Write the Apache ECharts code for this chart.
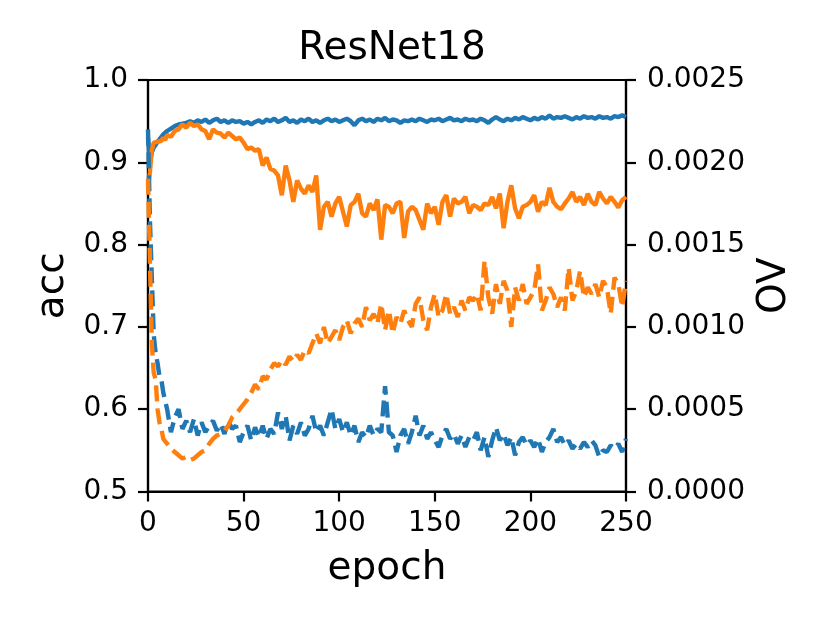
<!DOCTYPE html>
<html>
<head>
<meta charset="utf-8">
<script src="https://cdn.jsdelivr.net/npm/echarts/dist/echarts.min.js"></script>
<style>
  html, body { margin: 0; padding: 0; background: #fff; }
  #chart { width: 830px; height: 623px; }
</style>
</head>
<body>
<div id="chart"></div>
<script>
// epochs sampled: every epoch up to 10, then every 2
var epochs = [0,1,2,3,4,5,6,7,8,9,10];
for (var e = 12; e <= 250; e += 2) epochs.push(e);

var accBlue = [
  0.930,0.900,0.912,0.918,0.921,0.925,0.928,0.931,0.934,0.936,0.938,
  0.941,0.944,0.946,0.947,0.948,0.950,0.948,0.951,0.949,0.952,
  0.948,0.951,0.953,0.949,0.951,0.948,0.951,0.949,0.950,0.947,
  0.949,0.946,0.949,0.951,0.948,0.952,0.950,0.953,0.949,0.951,
  0.954,0.949,0.951,0.948,0.952,0.950,0.953,0.949,0.951,0.948,
  0.951,0.953,0.950,0.952,0.949,0.951,0.953,0.950,0.945,0.951,
  0.953,0.950,0.952,0.949,0.953,0.951,0.954,0.950,0.952,0.951,
  0.948,0.951,0.950,0.952,0.950,0.953,0.951,0.949,0.952,0.951,
  0.953,0.950,0.952,0.954,0.951,0.952,0.950,0.953,0.951,0.952,
  0.950,0.953,0.951,0.948,0.952,0.955,0.952,0.950,0.953,0.951,
  0.954,0.952,0.955,0.953,0.951,0.954,0.952,0.955,0.953,0.957,
  0.953,0.955,0.954,0.956,0.954,0.952,0.955,0.953,0.956,0.954,
  0.955,0.953,0.956,0.954,0.955,0.953,0.956,0.955,0.957,0.955
];

var accOrange = [
  0.870,0.888,0.915,0.924,0.922,0.925,0.923,0.926,0.930,0.927,0.933,
  0.931,0.938,0.940,0.946,0.942,0.948,0.944,0.946,0.940,0.938,
  0.928,0.940,0.936,0.935,0.930,0.936,0.932,0.928,0.930,0.924,
  0.916,0.918,0.914,0.916,0.896,0.906,0.892,0.890,0.884,0.860,
  0.896,0.878,0.852,0.878,0.868,0.862,0.872,0.864,0.884,0.818,
  0.846,0.852,0.834,0.850,0.858,0.840,0.822,0.848,0.852,0.862,
  0.838,0.834,0.850,0.842,0.855,0.806,0.848,0.846,0.838,0.850,
  0.852,0.808,0.840,0.846,0.842,0.830,0.818,0.850,0.838,0.846,
  0.824,0.852,0.860,0.834,0.856,0.850,0.852,0.858,0.838,0.848,
  0.846,0.842,0.850,0.848,0.858,0.844,0.862,0.820,0.852,0.872,
  0.844,0.832,0.846,0.848,0.852,0.860,0.840,0.852,0.848,0.869,
  0.852,0.846,0.843,0.850,0.856,0.864,0.852,0.858,0.848,0.862,
  0.852,0.848,0.864,0.856,0.850,0.858,0.852,0.845,0.854,0.858
];

var ovBlue = [
  0.00220,0.00165,0.00130,0.00095,0.00084,0.00078,0.00070,0.00068,0.00060,0.00055,0.00050,
  0.00036,0.00045,0.00050,0.00038,0.00043,0.00036,0.00044,0.00034,0.00042,0.00036,
  0.00040,0.00043,0.00037,0.00041,0.00035,0.00043,0.00038,0.00040,0.00030,0.00036,
  0.00040,0.00031,0.00039,0.00033,0.00040,0.00032,0.00038,0.00035,0.00048,0.00038,
  0.00046,0.00031,0.00040,0.00035,0.00042,0.00034,0.00038,0.00046,0.00036,0.00040,
  0.00034,0.00042,0.00050,0.00038,0.00044,0.00036,0.00042,0.00034,0.00040,0.00030,
  0.00036,0.00033,0.00040,0.00034,0.00038,0.00036,0.00064,0.00036,0.00034,0.00024,
  0.00034,0.00038,0.00029,0.00036,0.00046,0.00034,0.00040,0.00032,0.00036,0.00031,
  0.00027,0.00034,0.00038,0.00032,0.00035,0.00029,0.00034,0.00027,0.00033,0.00031,
  0.00036,0.00025,0.00033,0.00021,0.00031,0.00039,0.00031,0.00035,0.00028,0.00033,
  0.00022,0.00030,0.00033,0.00028,0.00031,0.00027,0.00032,0.00024,0.00030,0.00033,
  0.00038,0.00030,0.00033,0.00028,0.00031,0.00026,0.00029,0.00026,0.00030,0.00027,
  0.00031,0.00028,0.00021,0.00025,0.00024,0.00028,0.00026,0.00029,0.00024,0.00032
];

var ovOrange = [
  0.00190,0.00140,0.00090,0.00072,0.00068,0.00050,0.00042,0.00038,0.00032,0.00031,0.00029,
  0.00026,0.00024,0.00022,0.00020,0.00021,0.00019,0.00020,0.00022,0.00024,0.00025,
  0.00029,0.00032,0.00034,0.00035,0.00037,0.00040,0.00045,0.00047,0.00050,0.00053,
  0.00056,0.00060,0.00065,0.00062,0.00070,0.00068,0.00074,0.00078,0.00076,0.00080,
  0.00077,0.00082,0.00079,0.00083,0.00080,0.00086,0.00084,0.00090,0.00096,0.00090,
  0.00100,0.00090,0.00094,0.00098,0.00092,0.00100,0.00104,0.00096,0.00102,0.00105,
  0.00100,0.00112,0.00104,0.00108,0.00102,0.00114,0.00098,0.00110,0.00096,0.00106,
  0.00102,0.00110,0.00104,0.00100,0.00114,0.00118,0.00104,0.00098,0.00112,0.00120,
  0.00106,0.00110,0.00120,0.00108,0.00112,0.00106,0.00116,0.00110,0.00118,0.00116,
  0.00120,0.00110,0.00140,0.00118,0.00108,0.00126,0.00114,0.00128,0.00122,0.00100,
  0.00124,0.00116,0.00126,0.00114,0.00118,0.00122,0.00138,0.00110,0.00116,0.00124,
  0.00120,0.00112,0.00118,0.00110,0.00136,0.00116,0.00122,0.00134,0.00118,0.00124,
  0.00120,0.00126,0.00118,0.00128,0.00124,0.00108,0.00130,0.00126,0.00112,0.00128
];

function pairs(vals) {
  return epochs.map(function (x, i) { return [x, vals[i]]; });
}

var font = 'DejaVu Sans';
var tickText = { color: '#000', fontFamily: font, fontSize: 28 };
var axisLine = { show: true, lineStyle: { color: '#000', width: 2.2 } };
var axisTick = { show: true, inside: false, length: 10, lineStyle: { color: '#000', width: 2.2 } };

var option = {
  animation: false,
  backgroundColor: '#fff',
  title: {
    text: 'ResNet18',
    left: 387,
    top: 24,
    textAlign: 'center',
    textStyle: { color: '#000', fontFamily: font, fontSize: 39, fontWeight: 'normal' }
  },
  grid: {
    left: 148, right: 204, top: 80, bottom: 131.5,
    show: true, borderColor: '#000', borderWidth: 2.2, backgroundColor: 'transparent'
  },
  xAxis: {
    type: 'value', min: 0, max: 250, interval: 50,
    name: 'epoch', nameLocation: 'middle', nameGap: 58,
    nameTextStyle: { color: '#000', fontFamily: font, fontSize: 39 },
    axisLine: axisLine, axisTick: axisTick,
    axisLabel: Object.assign({ margin: 18 }, tickText),
    splitLine: { show: false }
  },
  yAxis: [
    {
      type: 'value', min: 0.5, max: 1.0, interval: 0.1, position: 'left',
      name: 'acc', nameLocation: 'middle', nameRotate: 90, nameGap: 76,
      nameTextStyle: { color: '#000', fontFamily: font, fontSize: 39 },
      axisLine: axisLine, axisTick: axisTick,
      axisLabel: Object.assign({ margin: 20, formatter: function (v) { return v.toFixed(1); } }, tickText),
      splitLine: { show: false }
    },
    {
      type: 'value', min: 0, max: 0.0025, interval: 0.0005, position: 'right',
      name: 'OV', nameLocation: 'middle', nameRotate: 90, nameGap: 128,
      nameTextStyle: { color: '#000', fontFamily: font, fontSize: 39 },
      axisLine: axisLine, axisTick: axisTick,
      axisLabel: Object.assign({ margin: 21, formatter: function (v) { return v.toFixed(4); } }, tickText),
      splitLine: { show: false }
    }
  ],
  series: [
    {
      type: 'line', yAxisIndex: 0, data: pairs(accBlue), showSymbol: false,
      lineStyle: { color: '#1f77b4', width: 4.4 }
    },
    {
      type: 'line', yAxisIndex: 0, data: pairs(accOrange), showSymbol: false,
      lineStyle: { color: '#ff7f0e', width: 4.4 }
    },
    {
      type: 'line', yAxisIndex: 1, data: pairs(ovBlue), showSymbol: false,
      lineStyle: { color: '#1f77b4', width: 4.4, type: [16, 7], cap: 'butt' }
    },
    {
      type: 'line', yAxisIndex: 1, data: pairs(ovOrange), showSymbol: false,
      lineStyle: { color: '#ff7f0e', width: 4.4, type: [16, 7], cap: 'butt' }
    }
  ]
};

var chart = echarts.init(document.getElementById('chart'));
chart.setOption(option);
</script>
</body>
</html>
